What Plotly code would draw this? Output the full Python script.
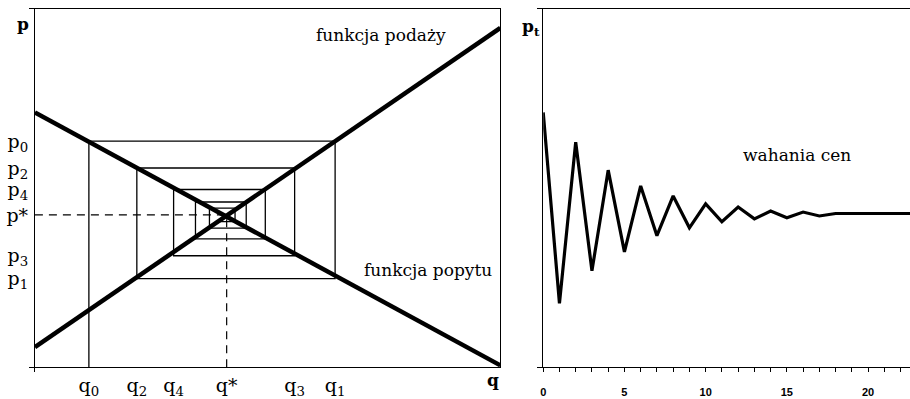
import plotly.graph_objects as go

# ---------------- data ----------------
# left panel: cobweb model, q and p in arbitrary units 0..100
demand_q = [0, 100]
demand_p = [71.1, 0.5]
supply_q = [0, 100]
supply_p = [5.6, 94.7]

# successive quantities q0..q10 and prices p0..p9 of the cobweb spiral
cob_q = [11.6, 64.5, 21.9, 55.8, 29.8, 49.5, 34.5, 45.4, 37.5, 43.0, 39.2]
cob_p = [63.1, 24.7, 55.6, 31.1, 49.6, 35.8, 46.1, 38.8, 44.4, 40.6]

q_star = 41.2
p_star = 42.5

q_tick_vals = [11.6, 21.9, 29.8, 41.2, 55.8, 64.5]
q_tick_text = ["q<sub>0</sub>", "q<sub>2</sub>", "q<sub>4</sub>", "q*", "q<sub>3</sub>", "q<sub>1</sub>"]
p_tick_vals = [63.1, 55.6, 49.6, 42.5, 31.1, 24.7]
p_tick_text = ["p<sub>0</sub>", "p<sub>2</sub>", "p<sub>4</sub>", "p*", "p<sub>3</sub>", "p<sub>1</sub>"]

# right panel: price over time
t_vals = list(range(0, 24))
pt_vals = [71.1, 17.8, 62.8, 26.9, 55.0, 32.2, 50.6, 36.7, 47.8, 38.9, 45.6, 40.6,
           44.7, 41.4, 43.6, 41.7, 43.3, 42.2, 42.9, 42.9, 42.9, 42.9, 42.9, 42.9]

# ---------------- figure ----------------
W, H = 910, 399
fig = go.Figure()

# cobweb path built from the arrays
path_x, path_y = [cob_q[0]], [0]
for i in range(len(cob_p)):
    path_x += [cob_q[i], cob_q[i + 1]]
    path_y += [cob_p[i], cob_p[i]]
    if i + 1 < len(cob_p):
        path_x += [cob_q[i + 1]]
        path_y += [cob_p[i + 1]]

fig.add_trace(go.Scatter(x=path_x, y=path_y, mode="lines",
                         line=dict(color="black", width=1.3), xaxis="x", yaxis="y",
                         hoverinfo="skip"))
# dashed equilibrium guides
fig.add_trace(go.Scatter(x=[0, q_star], y=[p_star, p_star], mode="lines",
                         line=dict(color="black", width=1.2, dash="8px,6px"),
                         xaxis="x", yaxis="y", hoverinfo="skip"))
fig.add_trace(go.Scatter(x=[q_star, q_star], y=[0, p_star], mode="lines",
                         line=dict(color="black", width=1.2, dash="8px,6px"),
                         xaxis="x", yaxis="y", hoverinfo="skip"))
# demand and supply
fig.add_trace(go.Scatter(x=demand_q, y=demand_p, mode="lines",
                         line=dict(color="black", width=4.5), xaxis="x", yaxis="y"))
fig.add_trace(go.Scatter(x=supply_q, y=supply_p, mode="lines",
                         line=dict(color="black", width=4.5), xaxis="x", yaxis="y"))

# right panel series
fig.add_trace(go.Scatter(x=t_vals, y=pt_vals, mode="lines",
                         line=dict(color="black", width=3.2), xaxis="x2", yaxis="y2"))

def px_x(px):
    return px / W

def px_y(py):
    return 1 - py / H

serif = "DejaVu Serif"

fig.update_layout(
    width=W, height=H,
    margin=dict(l=0, r=0, t=0, b=0),
    paper_bgcolor="white", plot_bgcolor="white",
    showlegend=False,
    xaxis=dict(domain=[px_x(32), px_x(499)], range=[0, 100], anchor="y",
               showgrid=False, zeroline=False, showline=True, linecolor="black",
               linewidth=1, mirror=True,
               tickmode="array", tickvals=q_tick_vals, ticktext=q_tick_text, ticks="",
               ticklabelstandoff=1,
               tickfont=dict(family=serif, size=19, color="black"),
               minor=dict(tickmode="array", tickvals=[0], ticks="outside", ticklen=4,
                          tickcolor="black", tickwidth=1)),
    yaxis=dict(domain=[px_y(369), px_y(9)], range=[0, 100], anchor="x",
               showgrid=False, zeroline=False, showline=True, linecolor="black",
               linewidth=1, mirror=True,
               tickmode="array", tickvals=p_tick_vals, ticktext=p_tick_text, ticks="",
               ticklabelstandoff=2,
               tickfont=dict(family=serif, size=19, color="black"),
               minor=dict(tickmode="array", tickvals=[0, 100], ticks="outside", ticklen=5,
                          tickcolor="black", tickwidth=1)),
    xaxis2=dict(domain=[px_x(542), 1.0], range=[0, 22.58], anchor="y2",
                showgrid=False, zeroline=False, showline=True, linecolor="black",
                linewidth=1, mirror=True,
                tickmode="linear", tick0=0, dtick=5, ticks="outside", ticklen=4,
                tickcolor="black", ticklabelstandoff=11,
                tickfont=dict(family="Liberation Sans", size=11, color="black", weight="bold"),
                minor=dict(dtick=1, tick0=0, ticks="outside", ticklen=4, tickcolor="black")),
    yaxis2=dict(domain=[px_y(369), px_y(9)], range=[0, 100], anchor="x2",
                showgrid=False, zeroline=False, showline=True, linecolor="black",
                linewidth=1, mirror=False,
                tickmode="array", tickvals=[0, 100], ticks="outside", ticklen=5,
                tickcolor="black", showticklabels=False),
)

ann_font = dict(family=serif, size=17, color="black")

def label(text, x, y, font):
    fig.add_annotation(text=text, x=px_x(x), y=px_y(y), xref="paper", yref="paper",
                       xanchor="center", yanchor="middle", showarrow=False, font=font)

label("funkcja podaży", 379, 35, ann_font)
label("funkcja popytu", 426, 271, ann_font)
label("wahania cen", 797, 156, ann_font)
label("<b>p</b>", 20, 24, dict(family=serif, size=17, color="black"))
label("<b>q</b>", 492, 382, dict(family=serif, size=17, color="black"))
label("<b>p<sub>t</sub></b>", 530, 28, dict(family=serif, size=17, color="black"))

fig.write_html("out.html",
               config={"displayModeBar": False},
               post_script="document.body.style.margin='0';document.body.style.padding='0';"
                           "document.body.style.overflow='hidden';"
                           "document.documentElement.style.overflow='hidden';")
